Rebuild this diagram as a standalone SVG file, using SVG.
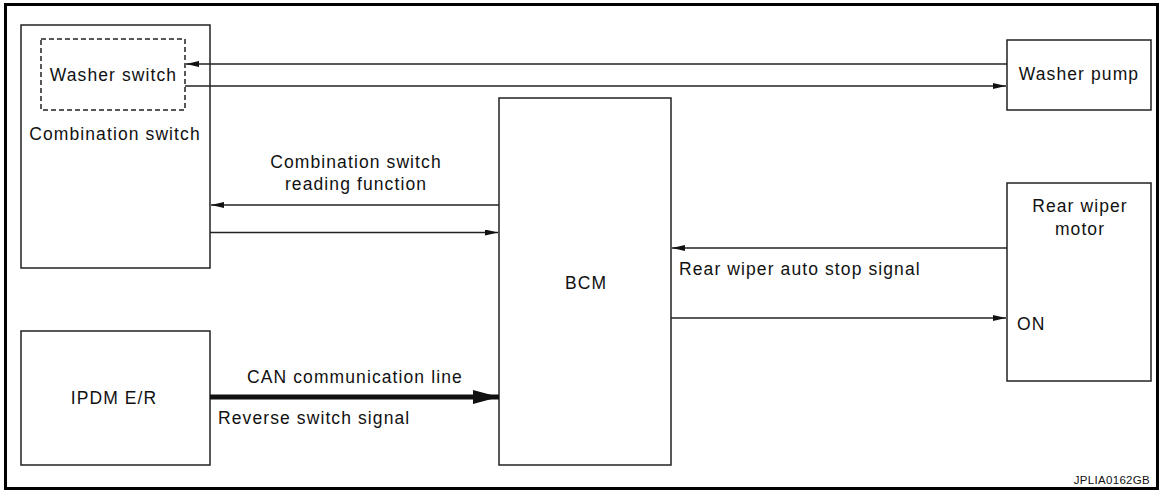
<svg xmlns="http://www.w3.org/2000/svg" width="1161" height="492" viewBox="0 0 1161 492">
<style>
.box{fill:#fff;stroke:#222;stroke-width:1.5}
.dash{fill:none;stroke:#222;stroke-width:1.5;stroke-dasharray:5,3}
.ln{fill:none;stroke:#222;stroke-width:1.5}
.t{font-family:"Liberation Sans",Arial,sans-serif;font-size:17.5px;letter-spacing:1.1px;fill:#111}
.c{text-anchor:middle}
</style>
<defs>
<marker id="ah" viewBox="0 0 13 6" refX="13" refY="3" markerWidth="13" markerHeight="6" markerUnits="userSpaceOnUse" orient="auto"><path d="M0,0L13,3L0,6z" fill="#111"/></marker>
<marker id="ahb" viewBox="0 0 26 14" refX="26" refY="7" markerWidth="26" markerHeight="14" markerUnits="userSpaceOnUse" orient="auto"><path d="M0,0L26,7L0,14z" fill="#111"/></marker>
</defs>
<rect x="5.5" y="4.5" width="1152" height="484" fill="#fff" stroke="#000" stroke-width="3"/>
<g id="combination-switch">
<rect class="box" x="21" y="25" width="189" height="243"/>
<text class="t c" x="115" y="140">Combination switch</text>
</g>
<g id="washer-switch">
<rect class="dash" x="41" y="39" width="144" height="71"/>
<text class="t c" x="113.5" y="81">Washer switch</text>
</g>
<g id="washer-pump">
<rect class="box" x="1007" y="40" width="144" height="70"/>
<text class="t c" x="1079" y="80">Washer pump</text>
</g>
<g id="bcm">
<rect class="box" x="499" y="98" width="172" height="367"/>
<text class="t c" x="586" y="289">BCM</text>
</g>
<g id="rear-wiper-motor">
<rect class="box" x="1007" y="183" width="144" height="198"/>
<text class="t c" x="1080" y="212">Rear wiper</text>
<text class="t c" x="1080" y="235">motor</text>
<text class="t" x="1017" y="330">ON</text>
</g>
<g id="ipdm">
<rect class="box" x="21" y="331" width="189" height="134"/>
<text class="t c" x="114" y="404">IPDM E/R</text>
</g>
<g id="connectors">
<line class="ln" x1="1007" y1="64" x2="186" y2="64" marker-end="url(#ah)"/>
<line class="ln" x1="185" y1="86" x2="1006" y2="86" marker-end="url(#ah)"/>
<line class="ln" x1="499" y1="205" x2="211" y2="205" marker-end="url(#ah)"/>
<line class="ln" x1="210" y1="232.5" x2="498" y2="232.5" marker-end="url(#ah)"/>
<line class="ln" x1="1007" y1="248" x2="672" y2="248" marker-end="url(#ah)"/>
<line class="ln" x1="671" y1="318" x2="1006" y2="318" marker-end="url(#ah)"/>
<line x1="210" y1="397" x2="499" y2="397" stroke="#111" stroke-width="5" marker-end="url(#ahb)"/>
</g>
<g id="labels">
<text class="t c" x="356" y="168">Combination switch</text>
<text class="t c" x="356" y="190">reading function</text>
<text class="t" x="679" y="275">Rear wiper auto stop signal</text>
<text class="t" x="247" y="383">CAN communication line</text>
<text class="t" x="218" y="424">Reverse switch signal</text>
<text class="t" x="1150" y="484" text-anchor="end" style="font-size:11.5px;letter-spacing:0.3px">JPLIA0162GB</text>
</g>
</svg>
